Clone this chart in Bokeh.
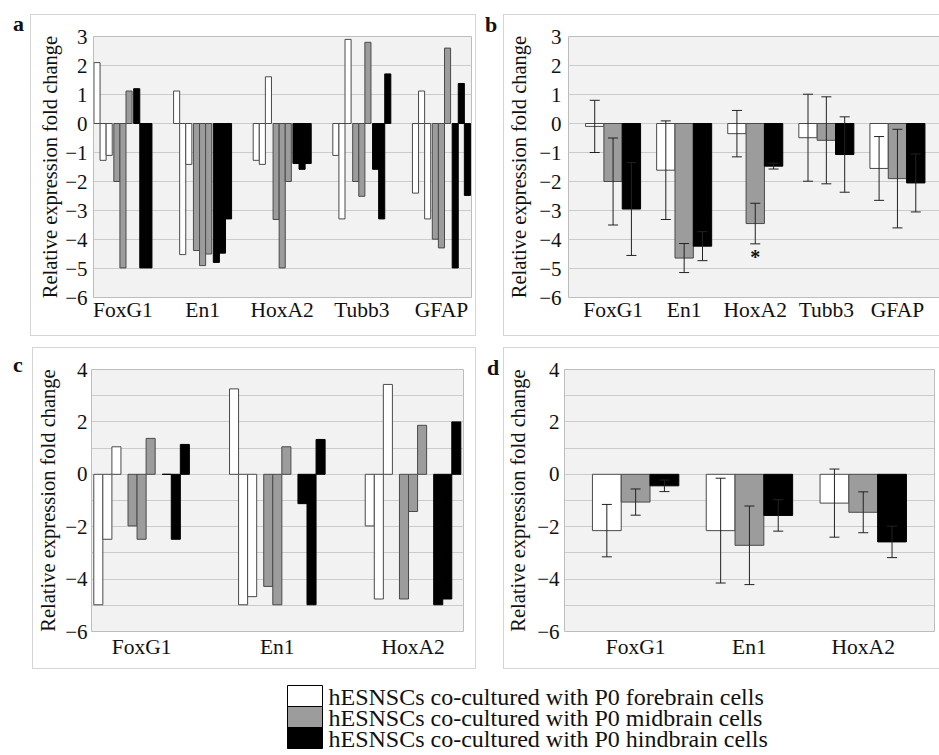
from bokeh.plotting import figure
from bokeh.models import (Range1d, FixedTicker, Whisker, TeeHead, ColumnDataSource, Div)
from bokeh.layouts import column, row
from bokeh.embed import file_html
from bokeh.resources import INLINE
from bokeh.core.properties import value

# ---------------- data ----------------
genes_ab = ["FoxG1", "En1", "HoxA2", "Tubb3", "GFAP"]
genes_cd = ["FoxG1", "En1", "HoxA2"]
legend_labels = ["hESNSCs co-cultured with P0 forebrain cells",
                 "hESNSCs co-cultured with P0 midbrain cells",
                 "hESNSCs co-cultured with P0 hindbrain cells"]
y_title = "Relative expression fold change"

# panel a: three replicate samples per co-culture, per gene
a_fore = [[2.1, -1.27, -1.1], [1.12, -4.52, -1.41], [-1.27, -1.41, 1.61], [-1.1, -3.29, 2.9], [-2.4, 1.12, -3.29]]
a_mid = [[-2.0, -4.98, 1.12], [-4.38, -4.9, -4.5], [-3.31, -4.98, -2.0], [-2.0, -2.51, 2.8], [-3.99, -4.29, 2.6]]
a_hind = [[1.2, -4.98, -4.98], [-4.79, -4.47, -3.29], [-1.38, -1.58, -1.38], [-1.58, -3.29, 1.71], [-4.98, 1.38, -2.48]]

# panel b: means and errors
b_fore = [-0.1, -1.61, -0.35, -0.49, -1.55]
b_fore_err = [0.9, 1.7, 0.8, 1.5, 1.1]
b_mid = [-2.0, -4.64, -3.45, -0.58, -1.9]
b_mid_err = [1.5, 0.5, 0.7, 1.5, 1.7]
b_hind = [-2.95, -4.23, -1.47, -1.07, -2.05]
b_hind_err = [1.6, 0.5, 0.1, 1.3, 1.0]
b_signif = ["", "", "*", "", ""]   # midbrain group

# panel c: three replicate samples per co-culture, per gene
c_fore = [[-4.98, -2.48, 1.05], [3.26, -4.98, -4.67], [-1.97, -4.76, 3.43]]
c_mid = [[-1.97, -2.48, 1.37], [-4.28, -4.98, 1.05], [-4.76, -1.42, 1.87]]
c_hind = [[0.0, -2.48, 1.14], [-1.12, -4.98, 1.33], [-4.98, -4.76, 2.0]]

# panel d: means and errors
d_fore = [-2.15, -2.15, -1.1]
d_fore_err = [1.0, 2.0, 1.3]
d_mid = [-1.06, -2.71, -1.45]
d_mid_err = [0.5, 1.5, 0.78]
d_hind = [-0.44, -1.57, -2.58]
d_hind_err = [0.22, 0.6, 0.6]

# ---------------- style ----------------
FONT = "Liberation Serif"
FILLS = ["white", "#9c9c9c", "black"]
LINES = ["#4a4a4a", "#4a4a4a", "black"]
BOX = "1px solid #d4d4d4"


def make_panel(w, h, mbl, mbr, mbt, mbb, x_start, ppu, y0, y1, genes, yticks,
               tick_standoff, label_standoff, xlab_standoff, top_margin, right_border=True):
    x_end = x_start + (w - mbl - mbr) / ppu
    styles = {"border": BOX, "box-sizing": "content-box"}
    if not right_border:
        styles["border-right"] = "none"
    p = figure(width=w, height=h, x_range=Range1d(x_start, x_end), y_range=Range1d(y0, y1),
               output_backend="svg", toolbar_location=None,
               min_border_left=mbl, min_border_right=mbr,
               min_border_top=mbt, min_border_bottom=mbb,
               background_fill_color="#f2f2f2", border_fill_color="white",
               outline_line_color="#bdbdbd", margin=(top_margin, 0, 0, 0), styles=styles)
    p.xgrid.visible = False
    p.ygrid.ticker = FixedTicker(ticks=list(range(y0, y1 + 1)))
    p.ygrid.grid_line_color = "#cbcbcb"
    p.yaxis.ticker = FixedTicker(ticks=yticks)
    p.xaxis.ticker = FixedTicker(ticks=list(range(len(genes))))
    p.xaxis.major_label_overrides = {i: g for i, g in enumerate(genes)}
    for ax in p.axis:
        ax.axis_line_color = None
        ax.major_tick_line_color = None
        ax.minor_tick_line_color = None
        ax.major_tick_out = 0
        ax.major_tick_in = 0
        ax.major_label_text_font = FONT
        ax.major_label_text_color = "#111111"
    p.xaxis.major_label_text_font_size = "21.5px"
    p.xaxis.major_label_standoff = xlab_standoff
    p.yaxis.major_label_text_font_size = "21px"
    p.yaxis.major_label_standoff = tick_standoff
    p.yaxis.axis_label = y_title
    p.yaxis.axis_label_text_font = FONT
    p.yaxis.axis_label_text_font_size = "20.5px"
    p.yaxis.axis_label_text_font_style = "normal"
    p.yaxis.axis_label_text_color = "#111111"
    p.yaxis.axis_label_standoff = label_standoff
    return p


def replicate_bars(p, series, bw, gap):
    start = -(9 * bw + 2 * gap) / 2
    for g, vals in enumerate(series):
        xs, tops = [], []
        for gi, reps in enumerate(vals):
            for j, v in enumerate(reps):
                xs.append(gi + start + g * (3 * bw + gap) + (j + 0.5) * bw)
                tops.append(v)
        p.vbar(x=xs, top=tops, bottom=0, width=bw, fill_color=FILLS[g],
               line_color=LINES[g], line_width=1)


def mean_bars(p, means, errs, bw):
    for g, (m, e) in enumerate(zip(means, errs)):
        xs = [gi + (g - 1) * bw for gi in range(len(m))]
        p.vbar(x=xs, top=m, bottom=0, width=bw, fill_color=FILLS[g],
               line_color=LINES[g], line_width=1)
        src = ColumnDataSource(dict(base=xs, upper=[a + b for a, b in zip(m, e)],
                                    lower=[a - b for a, b in zip(m, e)]))
        p.add_layout(Whisker(source=src, base="base", upper="upper", lower="lower",
                             dimension="height", line_color="#222222", line_width=1,
                             upper_head=TeeHead(size=10, line_color="#222222", line_width=1),
                             lower_head=TeeHead(size=10, line_color="#222222", line_width=1),
                             level="annotation"))


def letter(ch, width, pad_left, pad_top):
    return Div(text=ch, width=width, height=45, margin=0,
               styles={"font-family": FONT, "font-size": "22px", "font-weight": "bold",
                       "line-height": "22px", "color": "#111111",
                       "padding-left": f"{pad_left}px", "padding-top": f"{pad_top}px",
                       "box-sizing": "border-box"})


# panel a
pa = make_panel(444, 320, 62, 6, 21, 40, -0.37, 79.2, -6, 3, genes_ab,
                list(range(-6, 4)), 6, 1, 0, 14)
replicate_bars(pa, [a_fore, a_mid, a_hind], 0.0765, 0.02)

# panel b
pb = make_panel(435, 320, 64, 0, 21, 40, -0.627, 70.9, -6, 3, genes_ab,
                list(range(-6, 4)), 7, 6, 0, 14, right_border=False)
mean_bars(pb, [b_fore, b_mid, b_hind], [b_fore_err, b_mid_err, b_hind_err], 0.258)
sx, sy, st = [], [], []
for gi, s in enumerate(b_signif):
    if s:
        sx.append(gi)
        sy.append(b_mid[gi] - b_mid_err[gi] - 0.45)
        st.append(s)
pb.text(x=sx, y=sy, text=st, text_font=value(FONT), text_font_size="20px",
        text_font_style="bold", text_align="center", text_baseline="middle", text_color="#111111")

# panel c
pc = make_panel(442, 320, 58, 14, 19, 39, -0.369, 135, -6, 4, genes_cd,
                [-6, -4, -2, 0, 2, 4], 4, 3, 3, 11)
replicate_bars(pc, [c_fore, c_mid, c_hind], 0.0667, 0.052)

# panel d
pd_ = make_panel(435, 320, 60, 6, 21, 39, -0.625, 113.5, -6, 4, genes_cd,
                 [-6, -4, -2, 0, 2, 4], 5, 5, 3, 11, right_border=False)
mean_bars(pd_, [d_fore, d_mid, d_hind], [d_fore_err, d_mid_err, d_hind_err], 0.253)

# legend (drawn in a pixel-scaled strip)
LW, LH = 939, 86
lg = figure(width=LW, height=LH, x_range=Range1d(0, LW), y_range=Range1d(LH, 0),
            output_backend="svg", toolbar_location=None, min_border=0, margin=0,
            outline_line_color=None, x_axis_type=None, y_axis_type=None,
            background_fill_color="white", border_fill_color="white")
row_h, row0, sw_l, sw_r, txt_x = 21, 16, 287, 322, 328
tops = [row0 + row_h * i for i in range(len(legend_labels))]
lg.quad(left=[sw_l] * 3, right=[sw_r] * 3, top=tops, bottom=[t + row_h for t in tops],
        fill_color=FILLS, line_color="black", line_width=1)
lg.text(x=[txt_x] * 3, y=[t + row_h / 2 + 1 for t in tops], text=legend_labels,
        text_font=value(FONT), text_font_size="24px", text_baseline="middle",
        text_align="left", text_color="#111111")

row1 = row(letter("a", 30, 13, 13), pa, letter("b", 27, 9, 14), pb)
row2 = row(letter("c", 32, 13, 18), pc, letter("d", 27, 11, 21), pd_)
layout = column(row1, row2, lg)
open("out.html", "w").write(file_html(layout, INLINE))
